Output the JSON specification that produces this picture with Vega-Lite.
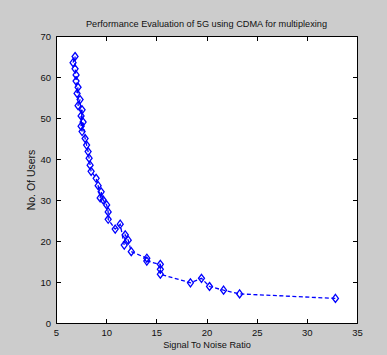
{
  "$schema": "https://vega.github.io/schema/vega-lite/v6.json",
  "autosize": "none",
  "width": 301,
  "height": 287,
  "padding": {"left": 56, "top": 36, "right": 30, "bottom": 32},
  "background": "#cccccc",
  "title": {
    "text": "Performance Evaluation of 5G using CDMA for multiplexing",
    "font": "Liberation Sans",
    "fontSize": 9.2,
    "fontWeight": "normal",
    "color": "#111111",
    "offset": 2,
    "anchor": "middle"
  },
  "config": {
    "view": {"stroke": "#000000", "strokeWidth": 1, "fill": "#ffffff"},
    "axis": {
      "domain": false,
      "grid": false,
      "tickColor": "#000000",
      "tickSize": -4.5,
      "labelFont": "Liberation Sans",
      "labelFontSize": 9.5,
      "labelColor": "#111111",
      "titleFont": "Liberation Sans",
      "titleFontSize": 9.2,
      "titleFontWeight": "normal",
      "titleColor": "#111111"
    }
  },
  "data": {
    "values": [
      {"snr": 6.9, "users": 65},
      {"snr": 6.7, "users": 63.5},
      {"snr": 6.9, "users": 62},
      {"snr": 7.0, "users": 60.5},
      {"snr": 7.0, "users": 59},
      {"snr": 7.2, "users": 57.5},
      {"snr": 7.1, "users": 56},
      {"snr": 7.4, "users": 54.5},
      {"snr": 7.2, "users": 53},
      {"snr": 7.6, "users": 52},
      {"snr": 7.5, "users": 50.5},
      {"snr": 7.7, "users": 49},
      {"snr": 7.5, "users": 48},
      {"snr": 7.6, "users": 46.7},
      {"snr": 7.9, "users": 45},
      {"snr": 8.05, "users": 43.4},
      {"snr": 8.2, "users": 41.8},
      {"snr": 8.3, "users": 40.2},
      {"snr": 8.4, "users": 38.5},
      {"snr": 8.5, "users": 37},
      {"snr": 9.0, "users": 35.3},
      {"snr": 9.2, "users": 33.5},
      {"snr": 9.5, "users": 32},
      {"snr": 9.4, "users": 30.5},
      {"snr": 9.7, "users": 30},
      {"snr": 10.05, "users": 28.8},
      {"snr": 10.2, "users": 27.1},
      {"snr": 10.2, "users": 25.3},
      {"snr": 11.4, "users": 24.1},
      {"snr": 10.9, "users": 22.9},
      {"snr": 11.9, "users": 21.5},
      {"snr": 12.2, "users": 20.2},
      {"snr": 11.8, "users": 19},
      {"snr": 12.5, "users": 17.4},
      {"snr": 14.05, "users": 15.8},
      {"snr": 14.05, "users": 15.1},
      {"snr": 15.4, "users": 14.3},
      {"snr": 15.4, "users": 13.1},
      {"snr": 15.4, "users": 11.9},
      {"snr": 18.4, "users": 9.8},
      {"snr": 19.5, "users": 10.9},
      {"snr": 20.3, "users": 8.9},
      {"snr": 21.7, "users": 8.0},
      {"snr": 23.3, "users": 7.1},
      {"snr": 32.85, "users": 6.0}
    ]
  },
  "layer": [
    {
      "mark": {"type": "line", "color": "#0000ff", "strokeWidth": 1.3, "strokeDash": [4, 2.5]},
      "encoding": {
        "x": {
          "field": "snr", "type": "quantitative",
          "scale": {"domain": [5, 35], "nice": false, "zero": false},
          "axis": {"title": "Signal To Noise Ratio", "values": [5, 10, 15, 20, 25, 30, 35], "labelPadding": 9, "titlePadding": 3, "labelFlush": false}
        },
        "y": {
          "field": "users", "type": "quantitative",
          "scale": {"domain": [0, 70], "nice": false},
          "axis": {"title": "No. Of Users", "titleFontSize": 10.5, "values": [0, 10, 20, 30, 40, 50, 60, 70], "labelPadding": 10, "titlePadding": 3, "labelFlush": false}
        }
      }
    },
    {
      "mark": {"type": "point", "shape": "M0,-1L0.75,0L0,1L-0.75,0Z", "filled": false, "color": "#0000ff", "size": 64, "strokeWidth": 1.3, "opacity": 1},
      "encoding": {
        "x": {"field": "snr", "type": "quantitative", "axis": null},
        "y": {"field": "users", "type": "quantitative", "axis": null}
      }
    },
    {
      "mark": {"type": "point", "opacity": 0},
      "encoding": {
        "x": {
          "field": "snr", "type": "quantitative",
          "axis": {"orient": "top", "title": null, "labels": false, "values": [5, 10, 15, 20, 25, 30, 35]}
        },
        "y": {
          "field": "users", "type": "quantitative",
          "axis": {"orient": "right", "title": null, "labels": false, "values": [0, 10, 20, 30, 40, 50, 60, 70]}
        }
      }
    }
  ],
  "resolve": {"axis": {"x": "independent", "y": "independent"}}
}
